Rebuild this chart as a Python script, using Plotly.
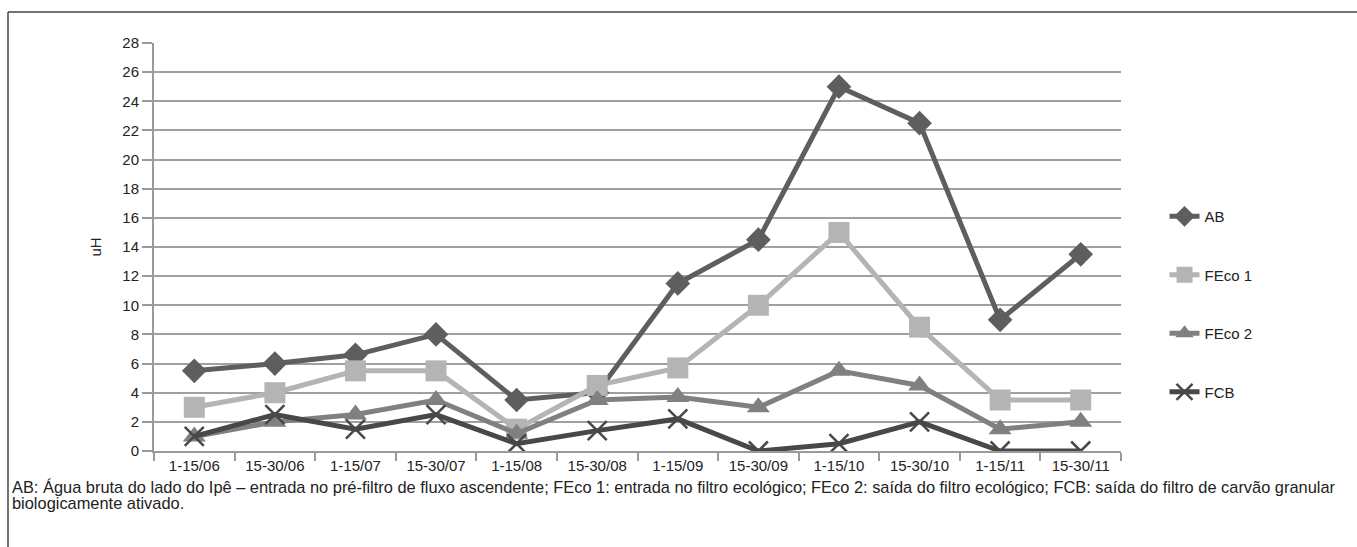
import plotly.graph_objects as go

categories = ["1-15/06", "15-30/06", "1-15/07", "15-30/07", "1-15/08", "15-30/08",
              "1-15/09", "15-30/09", "1-15/10", "15-30/10", "1-15/11", "15-30/11"]
ab = [5.5, 6.0, 6.6, 8.0, 3.5, 4.0, 11.5, 14.5, 25.0, 22.5, 9.0, 13.5]
feco1 = [3.0, 4.0, 5.5, 5.5, 1.5, 4.5, 5.7, 10.0, 15.0, 8.5, 3.5, 3.5]
feco2 = [1.0, 2.0, 2.5, 3.5, 1.2, 3.5, 3.7, 3.0, 5.5, 4.5, 1.5, 2.0]
fcb = [1.0, 2.5, 1.5, 2.5, 0.5, 1.4, 2.2, 0.0, 0.5, 2.0, 0.0, 0.0]

y_ticks = list(range(0, 29, 2))
caption_lines = [
    "AB: Água bruta do lado do Ipê – entrada no pré-filtro de fluxo ascendente; FEco 1: entrada no filtro ecológico; "
    "FEco 2: saída do filtro ecológico; FCB: saída do filtro de carvão granular",
    "biologicamente ativado.",
]

series = [
    ("AB", ab, "#5e5e5e", dict(symbol="diamond", size=19, color="#5e5e5e")),
    ("FEco 1", feco1, "#b4b4b4", dict(symbol="square", size=21, color="#b4b4b4")),
    ("FEco 2", feco2, "#808080", dict(symbol="triangle-up", size=20, color="#808080")),
    ("FCB", fcb, "#484848", dict(symbol="x-thin", size=19, color="#484848",
                                 line=dict(color="#484848", width=2.5))),
]

fig = go.Figure()
for i, (name, vals, col, mk) in enumerate(series):
    fig.add_trace(go.Scatter(
        x=categories, y=vals, name=name, mode="lines+markers",
        line=dict(color=col, width=5), marker=mk, legendgroup=f"g{i}",
    ))

FONT = "Liberation Sans, Arial, sans-serif"
PLOT_H = 408
PLOT_W = 967

fig.update_layout(
    width=1357, height=547,
    margin=dict(l=154, r=236, t=43, b=96),
    paper_bgcolor="white", plot_bgcolor="white",
    font=dict(family=FONT, size=15, color="#222"),
    showlegend=True,
    legend=dict(x=1.045, y=0.615, xanchor="left", yanchor="top",
                tracegroupgap=36, font=dict(size=15, color="#222"),
                bgcolor="rgba(0,0,0,0)"),
    xaxis=dict(type="category", categoryorder="array", categoryarray=categories,
               range=[-0.5, 11.5], showgrid=False, showline=True, linecolor="#9a9a9a",
               linewidth=2, ticks="outside", tickson="boundaries", ticklen=8,
               tickcolor="#9a9a9a", tickwidth=1.5, tickfont=dict(size=15, color="#222"),
               zeroline=False),
    yaxis=dict(range=[0, 28], tickvals=y_ticks, showgrid=True, gridcolor="#a0a0a0",
               gridwidth=1.5, showline=True, linecolor="#9a9a9a", linewidth=2,
               ticks="outside", ticklen=10, tickcolor="#9a9a9a", tickwidth=1.5,
               tickfont=dict(size=15, color="#222"), zeroline=False,
               title=dict(text="uH", font=dict(size=15, color="#222"), standoff=17)),
    shapes=[
        dict(type="line", xref="paper", yref="paper", x0=-146 / PLOT_W, x1=1.6,
             y0=(547 - 96 - 12) / PLOT_H, y1=(547 - 96 - 12) / PLOT_H,
             line=dict(color="#444", width=1.5)),
        dict(type="line", xref="paper", yref="paper", x0=-146 / PLOT_W, x1=-146 / PLOT_W,
             y0=(547 - 96 - 12) / PLOT_H, y1=-1, line=dict(color="#444", width=1.5)),
    ],
    annotations=[
        dict(text=caption_lines[0], xref="paper", yref="paper", x=-144 / PLOT_W,
             y=-36 / PLOT_H, xanchor="left", yanchor="middle", showarrow=False,
             align="left", font=dict(size=16.4, color="#222")),
        dict(text=caption_lines[1], xref="paper", yref="paper", x=-144 / PLOT_W,
             y=-52 / PLOT_H, xanchor="left", yanchor="middle", showarrow=False,
             align="left", font=dict(size=16.4, color="#222")),
    ],
)

fig.write_html("out.html")
